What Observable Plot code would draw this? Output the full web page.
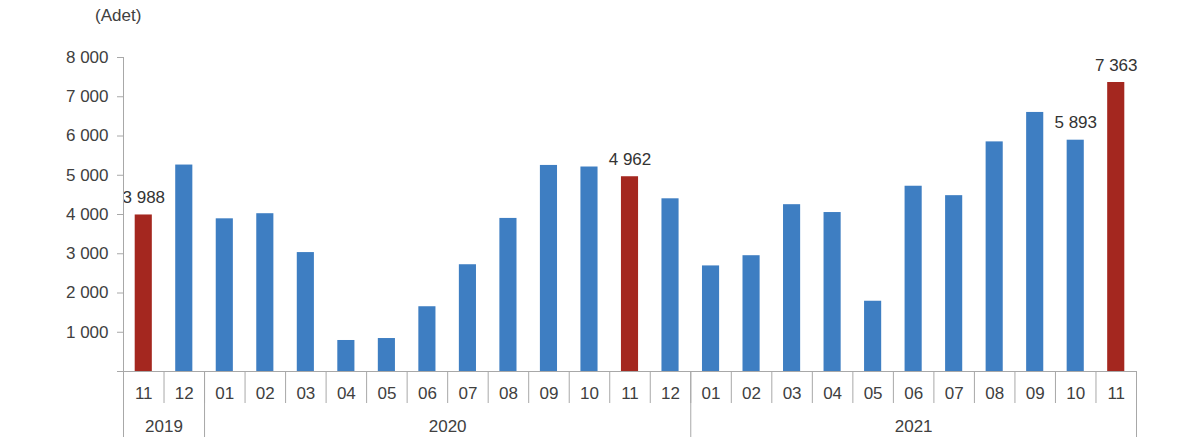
<!DOCTYPE html>
<html>
<head>
<meta charset="utf-8">
<script src="https://cdn.jsdelivr.net/npm/d3@7"></script>
<script src="https://cdn.jsdelivr.net/npm/@observablehq/plot@0.6"></script>
<style>
  body { margin: 0; background: #fff; font-family: "Liberation Sans", Arial, sans-serif; }
  #unit { height: 38px; position: relative; font-size: 17px; color: #404040; }
  #unit span { position: absolute; left: 95px; top: 6px; }
</style>
</head>
<body>
<div id="unit"><span>(Adet)</span></div>
<div id="chart"></div>
<script>
const months = ["11","12","01","02","03","04","05","06","07","08","09","10","11","12","01","02","03","04","05","06","07","08","09","10","11"];
const years = ["2019","2019","2020","2020","2020","2020","2020","2020","2020","2020","2020","2020","2020","2020","2021","2021","2021","2021","2021","2021","2021","2021","2021","2021","2021"];
const values = [3988, 5260, 3890, 4020, 3030, 790, 840, 1650, 2720, 3900, 5250, 5210, 4962, 4400, 2690, 2950, 4250, 4050, 1790, 4720, 4480, 5850, 6600, 5893, 7363];
const highlighted = [0, 12, 24];
const labeled = [0, 12, 23, 24];
const yTicks = [0, 1000, 2000, 3000, 4000, 5000, 6000, 7000, 8000];

const blue = "#3e7ec2";
const red = "#a4271f";
const grid = "#a8a8a8";

const fmt = d3.formatLocale({decimal: ",", thousands: " ", grouping: [3], currency: ["", ""]}).format(",");

const data = values.map((v, i) => ({i, month: months[i], year: years[i], value: v, hi: highlighted.includes(i)}));
const labelData = data.filter(d => labeled.includes(d.i));

// year groups: boundaries and midpoints from the years array
const yearNames = [...new Set(years)];
const yearStart = yearNames.map(y => years.indexOf(y));
const yearEnd = yearNames.map(y => years.lastIndexOf(y) + 1);
const yearBounds = [...new Set([...yearStart, ...yearEnd])];
const yearMids = yearNames.map((y, k) => (yearStart[k] + yearEnd[k]) / 2);

const chart = Plot.plot({
  width: 1201,
  height: 399,
  marginLeft: 123,
  marginRight: 65,
  marginTop: 19,
  marginBottom: 66,
  style: {fontFamily: "Liberation Sans, Arial, sans-serif", fontSize: "17px", color: "#404040", background: "#fff", overflow: "visible"},
  x: {domain: [0, values.length], axis: null},
  y: {domain: [0, 8000], axis: null},
  marks: [
    Plot.rectY(data, {x1: d => d.i, x2: d => d.i + 1, y: "value", fill: d => d.hi ? red : blue, insetLeft: 11.7, insetRight: 11.7}),
    Plot.text(labelData, {x: d => d.i + 0.5, y: "value", text: d => fmt(d.value), lineAnchor: "bottom", dy: -12, fill: "#333"}),
    Plot.axisY({ticks: yTicks, tickFormat: d => d === 0 ? "" : fmt(d), tickSize: 6, tickPadding: 9, stroke: grid, fill: "#404040", label: null}),
    Plot.ruleX([0], {stroke: grid}),
    Plot.ruleY([0], {stroke: grid}),
    // month separators
    Plot.axisX({ticks: d3.range(0, values.length + 1), tickFormat: () => "", tickSize: 32, stroke: grid, label: null}),
    // year separators
    Plot.axisX({ticks: yearBounds, tickFormat: () => "", tickSize: 66, stroke: grid, label: null}),
    // month labels
    Plot.axisX({ticks: data.map(d => d.i + 0.5), tickFormat: d => months[Math.floor(d)], tickSize: 0, tickPadding: 15, fill: "#404040", label: null}),
    // year labels
    Plot.axisX({ticks: yearMids, tickFormat: d => yearNames[yearMids.indexOf(d)], tickSize: 0, tickPadding: 48, fill: "#404040", label: null})
  ]
});
document.getElementById("chart").appendChild(chart);
</script>
</body>
</html>
